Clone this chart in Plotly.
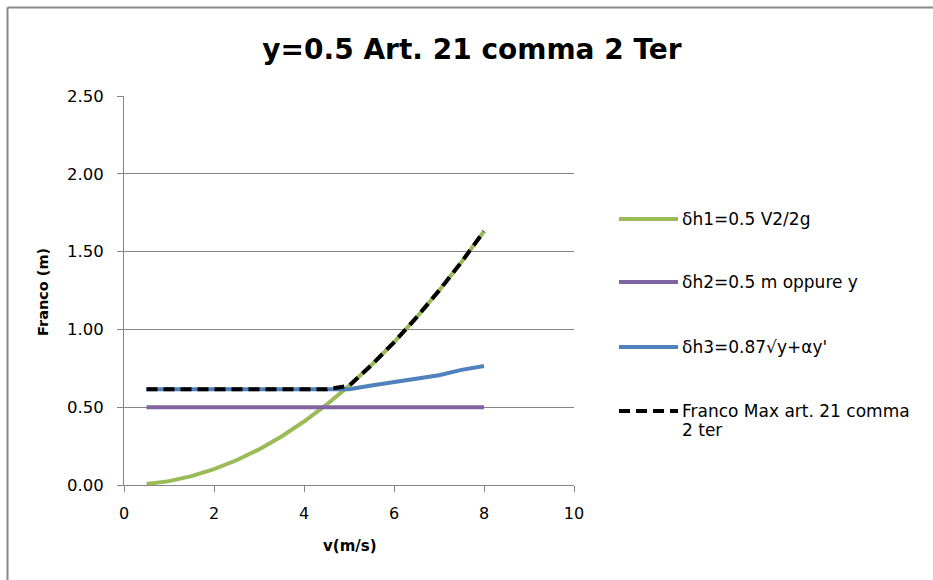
import plotly.graph_objects as go

v = [0.5, 1, 1.5, 2, 2.5, 3, 3.5, 4, 4.5, 5, 5.5, 6, 6.5, 7, 7.5, 8]
dh1 = [0.006, 0.025, 0.057, 0.102, 0.159, 0.229, 0.312, 0.408, 0.516, 0.637, 0.771, 0.917, 1.077, 1.249, 1.433, 1.631]
dh2 = [0.5] * 16
dh3 = [0.615, 0.615, 0.615, 0.615, 0.615, 0.615, 0.615, 0.615, 0.615, 0.615, 0.64, 0.66, 0.68, 0.705, 0.74, 0.765]
fmax = [0.615, 0.615, 0.615, 0.615, 0.615, 0.615, 0.615, 0.615, 0.615, 0.637, 0.771, 0.917, 1.077, 1.249, 1.433, 1.631]

names = ["δh1=0.5 V2/2g", "δh2=0.5 m oppure y", "δh3=0.87√y+αy'", "Franco Max art. 21 comma", "2 ter"]
colors = ["#9BBB59", "#8064A2", "#4F81BD", "#000000"]
dashes = ["solid", "solid", "solid", "dash"]
series = [dh1, dh2, dh3, fmax]

FONT = "DejaVu Sans"
L, R, T, B = 124, 359, 96, 95
W, H = 933, 580
pw, ph = W - L - R, H - T - B

def px(x):
    return (x - L) / pw

def py(y):
    return (H - B - y) / ph

fig = go.Figure()
for s, n, c, d in zip(series, names, colors, dashes):
    fig.add_trace(go.Scatter(x=v, y=s, mode="lines", name=n,
                             line=dict(color=c, width=4, dash="11px,6px" if d == "dash" else "solid"),
                             showlegend=False))

border = dict(color="#888888", width=2)
shapes = [
    dict(type="line", xref="paper", yref="paper", x0=px(7.5), x1=px(7.5), y0=py(7.5), y1=py(640), line=border, layer="below"),
    dict(type="line", xref="paper", yref="paper", x0=px(7.5), x1=px(990), y0=py(7.5), y1=py(7.5), line=border, layer="below"),
]
annotations = []
leg_y = [219, 282, 347, 411]
for c, d, yy in zip(colors, dashes, leg_y):
    shapes.append(dict(type="line", xref="paper", yref="paper", x0=px(619), x1=px(678), y0=py(yy), y1=py(yy),
                       line=dict(color=c, width=4, dash="11px,6px" if d == "dash" else "solid")))
for n, yy in zip(names, leg_y + [430]):
    annotations.append(dict(xref="paper", yref="paper", x=px(680), y=py(yy),
                            xanchor="left", yanchor="middle", align="left",
                            text=n, showarrow=False, font=dict(family=FONT, size=17, color="#000000")))

annotations.append(dict(xref="paper", yref="paper", x=px(350), y=py(546), text="<b>v(m/s)</b>", showarrow=False,
                        xanchor="center", yanchor="middle", font=dict(family=FONT, size=15, color="#000000")))
annotations.append(dict(xref="paper", yref="paper", x=px(43), y=py(292), text="<b>Franco (m)</b>", showarrow=False,
                        textangle=-90, xanchor="center", yanchor="middle", font=dict(family=FONT, size=14.5, color="#000000")))

fig.update_layout(
    width=W, height=H,
    margin=dict(l=L, r=R, t=T, b=B),
    paper_bgcolor="white", plot_bgcolor="white",
    title=dict(text="<b>y=0.5 Art. 21 comma 2 Ter</b>", x=472 / W, xanchor="center", y=1 - 49 / H, yanchor="middle",
               font=dict(family=FONT, size=28, color="#000000")),
    shapes=shapes, annotations=annotations,
    font=dict(family=FONT, color="#000000"),
)
fig.update_xaxes(range=[0, 10], tickvals=[0, 2, 4, 6, 8, 10], ticktext=["0", "2", "4", "6", "8", "10"],
                 showgrid=False, zeroline=False, showline=True, linecolor="#868686", linewidth=1,
                 ticks="outside", ticklen=6, tickcolor="#868686", tickfont=dict(family=FONT, size=16),
                 ticklabelstandoff=8)
fig.update_yaxes(range=[0, 2.5], tickvals=[0, 0.5, 1, 1.5, 2, 2.5],
                 ticktext=["0.00", "0.50", "1.00", "1.50", "2.00", "2.50"],
                 showgrid=True, gridcolor="#868686", gridwidth=1, zeroline=False, showline=True,
                 linecolor="#868686", linewidth=1, ticks="outside", ticklen=6, tickcolor="#868686",
                 tickfont=dict(family=FONT, size=16.5), ticklabelstandoff=10)

fig.write_html("out.html")
